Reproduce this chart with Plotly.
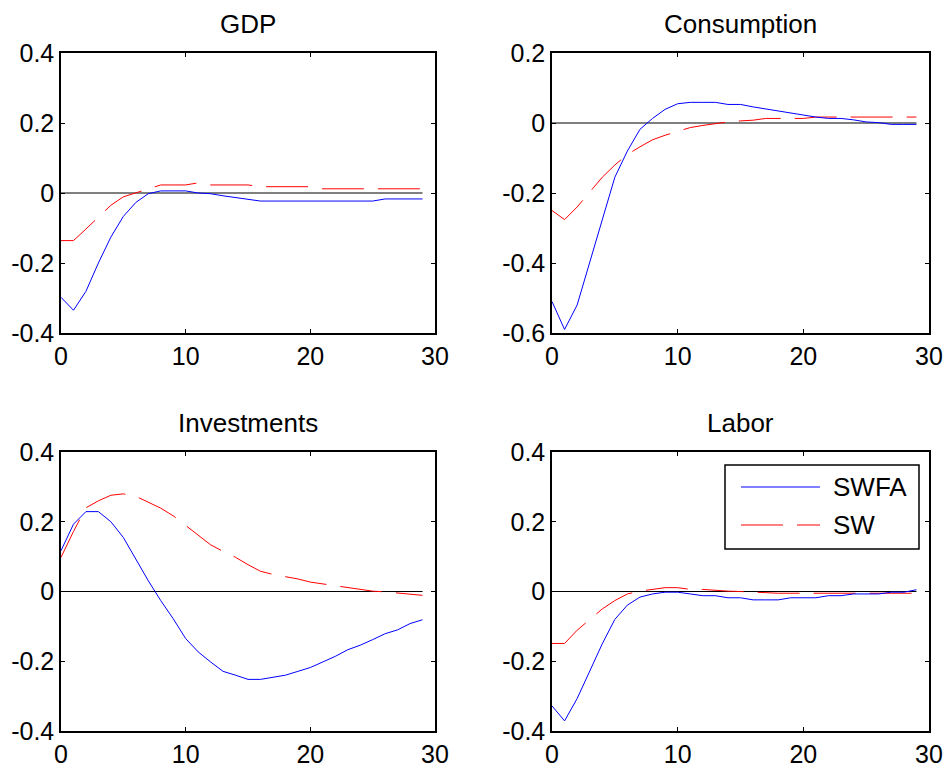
import plotly.graph_objects as go

# Impulse responses over a 30-quarter horizon
horizon = list(range(30))
titles = ["GDP", "Consumption", "Investments", "Labor"]
series_names = ["SWFA", "SW"]

gdp_swfa = [-0.298, -0.335, -0.281, -0.200, -0.126, -0.067, -0.027, -0.002, 0.006, 0.006,
            0.006, 0.000, -0.002, -0.008, -0.013, -0.019, -0.023, -0.023, -0.023, -0.023,
            -0.023, -0.023, -0.023, -0.023, -0.023, -0.023, -0.017, -0.017, -0.017, -0.017]
gdp_sw = [-0.136, -0.136, -0.103, -0.070, -0.035, -0.011, 0.000, 0.013, 0.023, 0.023,
          0.023, 0.029, 0.023, 0.023, 0.023, 0.023, 0.018, 0.018, 0.018, 0.018,
          0.018, 0.012, 0.012, 0.012, 0.012, 0.012, 0.012, 0.012, 0.012, 0.012]

cons_swfa = [-0.510, -0.590, -0.520, -0.400, -0.280, -0.155, -0.080, -0.018, 0.013, 0.039,
             0.055, 0.059, 0.059, 0.059, 0.053, 0.053, 0.046, 0.040, 0.034, 0.028,
             0.023, 0.017, 0.013, 0.013, 0.009, 0.003, 0.001, -0.004, -0.004, -0.004]
cons_sw = [-0.250, -0.276, -0.240, -0.198, -0.155, -0.120, -0.090, -0.068, -0.048, -0.035,
           -0.023, -0.013, -0.007, -0.001, 0.003, 0.006, 0.008, 0.013, 0.013, 0.013,
           0.013, 0.017, 0.017, 0.017, 0.017, 0.017, 0.017, 0.017, 0.017, 0.017]

inv_swfa = [0.117, 0.193, 0.229, 0.229, 0.200, 0.155, 0.093, 0.031, -0.026, -0.078,
            -0.135, -0.173, -0.202, -0.229, -0.240, -0.252, -0.252, -0.246, -0.240, -0.229,
            -0.218, -0.202, -0.186, -0.167, -0.154, -0.138, -0.121, -0.110, -0.092, -0.081]
inv_sw = [0.098, 0.172, 0.240, 0.260, 0.276, 0.280, 0.273, 0.255, 0.239, 0.217,
          0.189, 0.160, 0.134, 0.115, 0.098, 0.077, 0.058, 0.049, 0.043, 0.036,
          0.027, 0.022, 0.017, 0.012, 0.007, 0.001, -0.001, -0.005, -0.007, -0.011]

lab_swfa = [-0.328, -0.371, -0.307, -0.226, -0.150, -0.080, -0.039, -0.016, -0.007, -0.002,
            -0.002, -0.007, -0.012, -0.012, -0.018, -0.018, -0.024, -0.024, -0.024, -0.018,
            -0.018, -0.018, -0.012, -0.012, -0.007, -0.007, -0.007, -0.002, -0.002, 0.005]
lab_sw = [-0.149, -0.149, -0.111, -0.080, -0.050, -0.026, -0.007, 0.001, 0.005, 0.011,
          0.011, 0.006, 0.006, 0.003, 0.001, 0.000, -0.002, -0.005, -0.005, -0.005,
          -0.005, -0.005, -0.005, -0.005, -0.005, -0.005, -0.005, -0.005, -0.005, -0.005]

panels = [(gdp_swfa, gdp_sw), (cons_swfa, cons_sw), (inv_swfa, inv_sw), (lab_swfa, lab_sw)]
y_ranges = [[-0.4, 0.4], [-0.6, 0.2], [-0.4, 0.4], [-0.4, 0.4]]
x_ticks = [0, 10, 20, 30]

W, H = 948, 767
FONT = "Liberation Sans, Arial, sans-serif"
BLUE, RED = "#0000FF", "#FF0000"
DASH = "42px,14px"
TICK_SIZE, TEXT_SIZE = 25, 26

# panel boxes in pixels: (left, right, top, bottom)
boxes = [(61, 435, 53, 333), (552, 929, 53, 333), (61, 435, 452, 731), (552, 929, 452, 731)]

fig = go.Figure()
layout = dict(
    width=W, height=H, margin=dict(l=0, r=0, t=0, b=0, pad=0, autoexpand=False),
    paper_bgcolor="white", plot_bgcolor="white",
    showlegend=False, font=dict(family=FONT, size=TICK_SIZE, color="black"),
)
annotations = []
shapes = []

for i, ((swfa, sw), yr, (l, r, t, b)) in enumerate(zip(panels, y_ranges, boxes)):
    n = "" if i == 0 else str(i + 1)
    xa, ya = "x" + n, "y" + n
    fig.add_trace(go.Scatter(x=horizon, y=[0] * len(horizon), mode="lines",
                             line=dict(color="black", width=1), xaxis=xa, yaxis=ya,
                             hoverinfo="skip"))
    fig.add_trace(go.Scatter(x=horizon, y=sw, mode="lines", name=series_names[1],
                             line=dict(color=RED, width=1, dash=DASH), xaxis=xa, yaxis=ya))
    fig.add_trace(go.Scatter(x=horizon, y=swfa, mode="lines", name=series_names[0],
                             line=dict(color=BLUE, width=1), xaxis=xa, yaxis=ya))
    step = 0.2
    yt = [round(yr[0] + k * step, 1) for k in range(int(round((yr[1] - yr[0]) / step)) + 1)]
    common = dict(showgrid=False, zeroline=False, showline=True, linecolor="black",
                  linewidth=1.5, mirror="ticks", ticks="inside", ticklen=4,
                  tickcolor="black", automargin=False,
                  tickfont=dict(family=FONT, size=TICK_SIZE, color="black"))
    layout["xaxis" + n] = dict(domain=[l / W, r / W], range=[0, 30], tickvals=x_ticks,
                               anchor=ya, **common)
    layout["yaxis" + n] = dict(domain=[1 - b / H, 1 - t / H], range=yr, tickvals=yt,
                               ticktext=["0" if v == 0 else f"{v:g}" for v in yt],
                               anchor=xa, **common)
    annotations.append(dict(x=(l + r) / 2 / W, y=1 - (t - 29) / H, xref="paper", yref="paper",
                            text=titles[i], showarrow=False, xanchor="center",
                            yanchor="middle", font=dict(family=FONT, size=TEXT_SIZE, color="black")))

# legend drawn inside the Labor panel
lx0, lx1, ly0, ly1 = 725, 919, 465, 549
shapes.append(dict(type="rect", xref="paper", yref="paper", x0=lx0 / W, x1=lx1 / W,
                   y0=1 - ly1 / H, y1=1 - ly0 / H, line=dict(color="black", width=1.5),
                   fillcolor="white", layer="above"))
for name, color, dash, yy in [(series_names[0], BLUE, "solid", 487),
                              (series_names[1], RED, DASH, 525)]:
    shapes.append(dict(type="line", xref="paper", yref="paper", x0=741 / W, x1=820 / W,
                       y0=1 - yy / H, y1=1 - yy / H, line=dict(color=color, width=1, dash=dash),
                       layer="above"))
    annotations.append(dict(x=831 / W, y=1 - yy / H, xref="paper", yref="paper", text=name,
                            showarrow=False, xanchor="left", yanchor="middle",
                            font=dict(family=FONT, size=TEXT_SIZE, color="black")))

layout["annotations"] = annotations
layout["shapes"] = shapes
fig.update_layout(**layout)
fig.write_html("out.html")
